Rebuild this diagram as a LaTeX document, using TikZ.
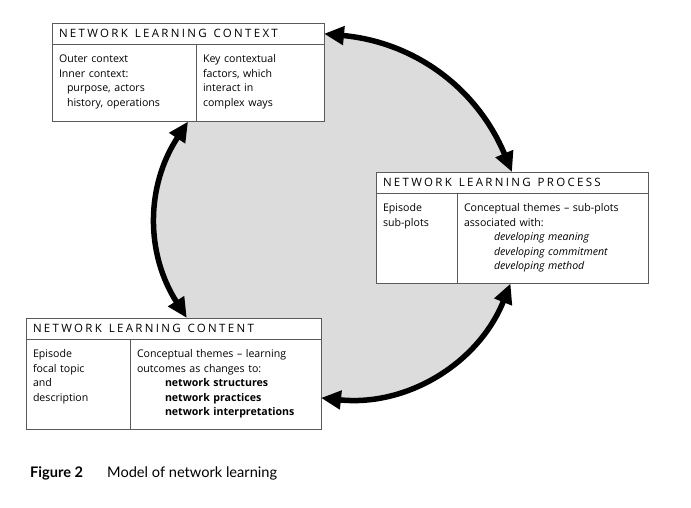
\documentclass[tikz,border=0pt]{standalone}
\usepackage{fontspec}
\setmainfont{Open Sans}
\newfontfamily\capfont{Lato}
\newfontfamily\headfont[LetterSpace=20]{Open Sans}
\usetikzlibrary{arrows.meta}
\pgfdeclarelayer{background}
\pgfsetlayers{background,main}
\definecolor{boxline}{HTML}{5A5A5A}
\definecolor{areagray}{HTML}{DCDCDC}
\tikzset{
  head/.style={draw=boxline,fill=white,line width=0.8pt,outer sep=0pt,anchor=north west,minimum height=21.5pt,inner xsep=7pt,
    font=\headfont\fontsize{11.5}{13}\selectfont,execute at begin node={\spaceskip=7pt\relax}},
  body/.style={draw=boxline,fill=white,line width=0.8pt,outer sep=0pt,anchor=north west,align=left,inner xsep=7pt,inner ysep=4pt,
    text height=14pt,font=\fontsize{10.6}{14.6}\selectfont},
  link/.style={line width=5.5pt,{Triangle[length=20pt,width=18pt]}-{Triangle[length=20pt,width=18pt]}},
  caption/.style={anchor=base west,inner sep=0pt,font=\capfont\fontsize{14.6}{17}\selectfont}
}
\begin{document}
\begin{tikzpicture}[x=1pt,y=-1pt]
  \useasboundingbox (0,0) rectangle (691,508);
  \node[head,text width=258pt] (ctxhead) at (52,23) {NETWORK LEARNING CONTEXT};
  \node[body,text width=130pt,text depth=55pt] (ctxleft) at (ctxhead.south west)
    {Outer context\\Inner context:\\\hspace*{8pt}purpose, actors\\\hspace*{8pt}history, operations};
  \node[body,text width=114pt,text depth=55pt] (ctxright) at (ctxleft.north east)
    {Key contextual\\factors, which\\interact in\\complex ways};
  \node[head,text width=258pt] (prochead) at (376,172) {NETWORK LEARNING PROCESS};
  \node[body,text width=67pt,text depth=68pt] (procleft) at (prochead.south west) {Episode\\sub-plots};
  \node[body,text width=177pt,text depth=68pt] (procright) at (procleft.north east)
    {Conceptual themes -- sub-plots\\associated with:\\\hspace*{30pt}\textit{developing meaning}\\
     \hspace*{30pt}\textit{developing commitment}\\\hspace*{30pt}\textit{developing method}};
  \node[head,text width=281pt] (conhead) at (26,318) {NETWORK LEARNING CONTENT};
  \node[body,text width=90pt,text depth=68pt] (conleft) at (conhead.south west)
    {Episode\\focal topic\\and\\description};
  \node[body,text width=177pt,text depth=68pt] (conright) at (conleft.north east)
    {Conceptual themes -- learning\\outcomes as changes to:\\\hspace*{28pt}\textbf{network structures}\\
     \hspace*{28pt}\textbf{network practices}\\\hspace*{28pt}\textbf{network interpretations}};
  \begin{pgfonlayer}{background}
    \fill[areagray] (ctxhead.east) to[bend left=31] (prochead.north) -- (procright.-133) to[bend left=37] (conright.-8)
      -- (conhead.39) to[bend left=33] (ctxleft.-31) -- cycle;
  \end{pgfonlayer}
  \draw[link] (ctxhead.east) to[bend left=31] (prochead.north);
  \draw[link] (procright.-133) to[bend left=37] (conright.-8);
  \draw[link] (conhead.39) to[bend left=33] (ctxleft.-31);
  \node[caption,font=\capfont\bfseries\fontsize{14.6}{17}\selectfont] (figno) at (30,477) {Figure 2};
  \node[caption] (figtitle) at (107,477) {Model of network learning};
\end{tikzpicture}
\end{document}
